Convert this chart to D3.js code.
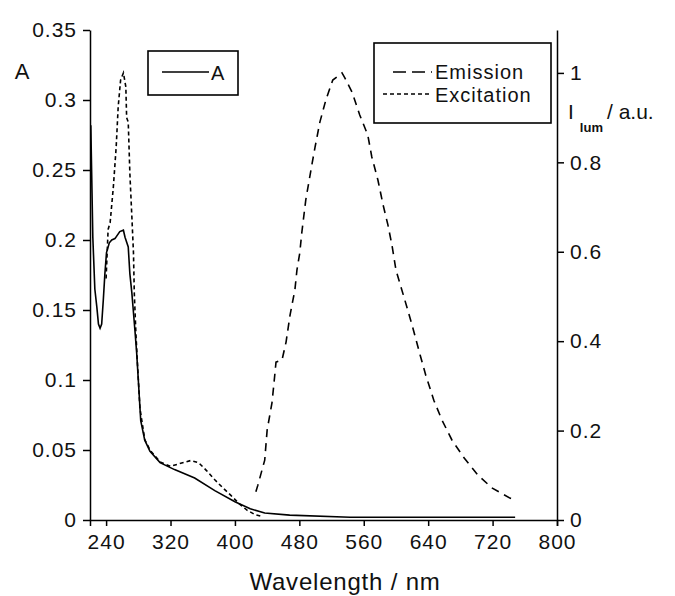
<!DOCTYPE html>
<html>
<head>
<meta charset="UTF-8"/>
<title>Absorption / Emission</title>
<script src="https://d3js.org/d3.v7.min.js"></script>
<style>
body { margin: 0; background: #fff; font-family: 'Liberation Sans', Arial, sans-serif; }
svg { display: block; }
text { fill: #111; }
.axis path, .axis line { stroke: #000; stroke-width: 1.5; }
.axis text { font-size: 21px; letter-spacing: 1px; font-family: 'Liberation Sans', Arial, sans-serif; }
.curve { fill: none; stroke: #000; stroke-width: 1.6; }
.legend rect { fill: #fff; stroke: #000; stroke-width: 1.6; }
.legend text { font-size: 20px; letter-spacing: 1px; }
</style>
</head>
<body>
<svg width="675" height="596"></svg>
<script>
// absorbance (left axis)
const absWl = [221, 222, 222.5, 223.5, 226, 228.5, 230.5, 232.5, 234.5, 236.5, 238.5, 240.5, 244, 247, 251, 257, 261.5, 263.5, 267.5, 269.5, 272, 274, 276, 278, 280, 283, 288, 294.5, 307, 325, 350, 375, 400, 419, 437, 468, 543, 748];
const absA  = [0.282, 0.25, 0.234, 0.202, 0.165, 0.152, 0.14, 0.137, 0.14, 0.157, 0.176, 0.191, 0.198, 0.2, 0.201, 0.206, 0.207, 0.202, 0.195, 0.176, 0.162, 0.148, 0.134, 0.119, 0.1, 0.071, 0.057, 0.049, 0.041, 0.036, 0.03, 0.021, 0.013, 0.008, 0.005, 0.0035, 0.002, 0.002];

// excitation (right axis)
const excWl = [240, 242.5, 245, 249, 252.5, 255, 258, 261.5, 264.5, 265.5, 267.5, 269.5, 272, 274, 275, 277, 278.5, 282, 288, 295, 307, 320, 335, 345, 355, 365, 375, 385, 395, 405, 415, 425, 433];
const excI  = [0.54, 0.65, 0.665, 0.745, 0.834, 0.924, 0.984, 1.0, 0.969, 0.9, 0.89, 0.776, 0.678, 0.597, 0.508, 0.418, 0.365, 0.25, 0.18, 0.155, 0.13, 0.12, 0.128, 0.133, 0.128, 0.11, 0.09, 0.072, 0.055, 0.037, 0.022, 0.012, 0.008];

// emission (right axis)
const emWl = [426, 428.5, 437, 440, 446, 448.5, 451, 458.5, 463.5, 468.5, 474.5, 477, 480.5, 483, 488, 495.5, 499.5, 505.5, 513, 521.5, 533, 536.5, 545.5, 555, 565, 570, 577.5, 584, 590, 595, 600, 611, 620, 630, 637, 647, 657, 669.5, 684.5, 701.5, 719, 741.5, 748];
const emI  = [0.063, 0.078, 0.134, 0.201, 0.262, 0.306, 0.353, 0.358, 0.398, 0.459, 0.515, 0.559, 0.597, 0.642, 0.716, 0.794, 0.834, 0.89, 0.94, 0.984, 1.0, 0.989, 0.957, 0.906, 0.861, 0.812, 0.761, 0.705, 0.66, 0.615, 0.559, 0.492, 0.436, 0.369, 0.324, 0.268, 0.224, 0.179, 0.139, 0.101, 0.072, 0.049, 0.045];

const xTicks = [240, 320, 400, 480, 560, 640, 720, 800];
const yLeftTicks = [0, 0.05, 0.1, 0.15, 0.2, 0.25, 0.3, 0.35];
const yRightTicks = [0, 0.2, 0.4, 0.6, 0.8, 1];

const svg = d3.select('svg');

const plotL = 90, plotR = 557, plotT = 30, plotB = 520;

const x = d3.scaleLinear().domain([220, 800]).range([plotL, plotR]);
const yL = d3.scaleLinear().domain([0, 0.35]).range([plotB, plotT]);
const yR = d3.scaleLinear().domain([0, 1.096]).range([plotB, plotT]);

const fmt = d => String(+d.toFixed(2));

svg.append('g')
  .attr('class', 'axis')
  .attr('transform', `translate(0, ${plotB})`)
  .call(d3.axisBottom(x).tickValues(xTicks).tickSize(6).tickSizeOuter(6).tickPadding(8).tickFormat(d3.format('d')));

svg.append('g')
  .attr('class', 'axis')
  .attr('transform', `translate(${plotL}, 0)`)
  .call(d3.axisLeft(yL).tickValues(yLeftTicks).tickSize(7).tickSizeOuter(0).tickPadding(6).tickFormat(fmt));

svg.append('g')
  .attr('class', 'axis')
  .attr('transform', `translate(${plotR}, 0)`)
  .call(d3.axisRight(yR).tickValues(yRightTicks).tickSize(7).tickSizeOuter(0).tickPadding(6).tickFormat(fmt));

svg.selectAll('.axis text').attr('fill', '#111');

// curves
const lineA = d3.line().x(d => x(d[0])).y(d => yL(d[1]));
const lineR = d3.line().x(d => x(d[0])).y(d => yR(d[1]));

svg.append('path').attr('class', 'curve')
  .attr('d', lineA(d3.zip(absWl, absA)));

svg.append('path').attr('class', 'curve')
  .attr('stroke-dasharray', '4,3')
  .attr('d', lineR(d3.zip(excWl, excI)));

svg.append('path').attr('class', 'curve')
  .attr('stroke-dasharray', '8,6')
  .attr('d', lineR(d3.zip(emWl, emI)));

// axis titles
svg.append('text')
  .attr('x', 345).attr('y', 590)
  .attr('text-anchor', 'middle')
  .style('font-size', '24px')
  .style('letter-spacing', '0.8px')
  .text('Wavelength / nm');

svg.append('text')
  .attr('x', 22).attr('y', 79)
  .attr('text-anchor', 'middle')
  .style('font-size', '22px')
  .text('A');

const rl = svg.append('text')
  .attr('x', 568).attr('y', 119)
  .style('font-size', '21px');
rl.append('tspan').text('I');
rl.append('tspan').attr('dy', 13).attr('dx', 6)
  .style('font-size', '13px').style('font-weight', 'bold').text('lum');
rl.append('tspan').attr('dy', -13).attr('dx', 4).text('/ a.u.');

// legends
const lg1 = svg.append('g').attr('class', 'legend');
lg1.append('rect').attr('x', 148).attr('y', 51).attr('width', 90).attr('height', 44);
lg1.append('line').attr('class', 'curve').attr('x1', 162).attr('x2', 209).attr('y1', 72).attr('y2', 72);
lg1.append('text').attr('x', 211).attr('y', 80).text('A');

const lg2 = svg.append('g').attr('class', 'legend');
lg2.append('rect').attr('x', 374).attr('y', 43).attr('width', 177).attr('height', 80);
lg2.append('line').attr('class', 'curve').attr('stroke-dasharray', '13,6')
  .attr('x1', 393).attr('x2', 432).attr('y1', 72).attr('y2', 72);
lg2.append('text').attr('x', 435).attr('y', 79).text('Emission');
lg2.append('line').attr('class', 'curve').attr('stroke-dasharray', '4,3')
  .attr('x1', 383).attr('x2', 432).attr('y1', 94).attr('y2', 94);
lg2.append('text').attr('x', 435).attr('y', 102).text('Excitation');
</script>
</body>
</html>
